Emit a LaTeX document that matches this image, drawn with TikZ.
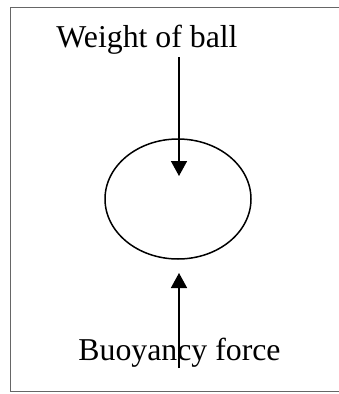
\documentclass[tikz,border=0pt]{standalone}
\usepackage{fontspec}
\setmainfont{Liberation Serif}
\usetikzlibrary{arrows.meta,shapes.geometric}
\begin{document}
\begin{tikzpicture}[x=1pt,y=-1pt,
  lbl/.style={font=\fontsize{31.8}{36}\selectfont, inner sep=0pt, anchor=base},
  force/.style={line width=1.6pt, -{Triangle[width=16pt,length=15pt]}},
  frame/.style={draw=gray!80!black, line width=1pt}]
\useasboundingbox (0,0) rectangle (339,394);
\draw[frame] (339,7.5) -- (10,7.5) -- (10,391.7) -- (339,391.7);
\node[lbl] (w) at (147,47) {Weight of ball};
\node[lbl] (b) at (179.5,360) {Buoyancy force};
\node[draw, ellipse, line width=1.5pt, minimum width=146pt, minimum height=120pt, inner sep=0pt] (ball) at (178,199) {};
\coordinate (ts) at (179,57);
\coordinate (te) at (179,176);
\coordinate (bs) at (179,368);
\coordinate (be) at (179,273);
\draw[force] (ts) -- (te);
\draw[force] (bs) -- (be);
\end{tikzpicture}
\end{document}
